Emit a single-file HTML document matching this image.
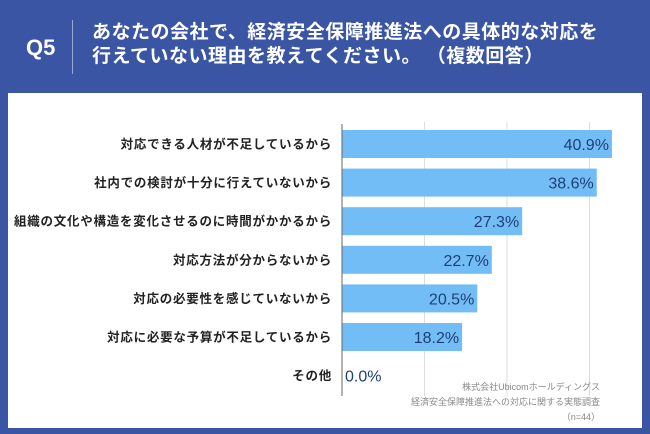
<!DOCTYPE html>
<html><head><meta charset="utf-8"><style>
body{margin:0;width:650px;height:434px;background:#3a55a3;font-family:"Liberation Sans","Noto Sans CJK JP",sans-serif;position:relative;overflow:hidden}
.hd{position:absolute;color:#fff;font-weight:bold}
</style></head><body>
<div class="hd" style="left:26px;top:35px;font-size:22px">Q5</div>
<div style="position:absolute;left:72px;top:20px;width:1px;height:54px;background:#9aa8d4"></div>
<div class="hd" style="left:92px;top:21px;font-size:19px;line-height:24px;letter-spacing:0.5px;white-space:nowrap">あなたの会社で、経済安全保障推進法への具体的な対応を<br>行えていない理由を教えてください。 （複数回答）</div>
<div style="position:absolute;left:8px;top:93px;width:634px;height:335px;background:#fff"></div>
<svg id="c" width="650" height="434" style="position:absolute;left:0;top:0"></svg>
<div style="position:absolute;right:50px;top:380px;font-size:9px;line-height:15px;color:#888;text-align:right;white-space:nowrap">株式会社Ubicomホールディングス<br>経済安全保障推進法への対応に関する実態調査<br>（n=44）</div>
<script>
const categories=["対応できる人材が不足しているから","社内での検討が十分に行えていないから","組織の文化や構造を変化させるのに時間がかかるから","対応方法が分からないから","対応の必要性を感じていないから","対応に必要な予算が不足しているから","その他"];
const values=[40.9,38.6,27.3,22.7,20.5,18.2,0.0];
const gridTicks=[12.5,25,37.5];
const svg=document.getElementById('c');const NS='http://www.w3.org/2000/svg';
const x0=342,pxPer=6.6,y0=144,step=38.6,bh=28;
const xs=v=>x0+v*pxPer, ys=i=>y0+i*step;
function mk(t,a){const e=document.createElementNS(NS,t);for(const k in a)e.setAttribute(k,a[k]);svg.appendChild(e);return e;}
gridTicks.forEach(t=>{const l=mk('line',{x1:xs(t),x2:xs(t),y1:122,y2:396,stroke:'#ddd','stroke-width':1});

});
categories.forEach((c,i)=>{
 const v=values[i],cy=ys(i);
 if(v>0){const r=mk('rect',{x:x0,y:cy-bh/2,width:xs(v)-x0,height:bh,fill:'#73bdf7'});
 
 }
 const lb=mk('text',{x:332,y:cy+4.5,'text-anchor':'end','font-size':12.5,'letter-spacing':0.75,'font-weight':'bold',fill:'#222'});lb.textContent=c;
 
 
 const vt=v>0?mk('text',{x:xs(v)-3,y:cy+6,'text-anchor':'end','font-size':16,fill:'#1f3f74'}):mk('text',{x:x0+3,y:cy+6,'font-size':16,fill:'#1f3f74'});
 vt.textContent=v.toFixed(1)+'%';
 
 
});
const ax=mk('line',{x1:x0,x2:x0,y1:124,y2:396,stroke:'#666','stroke-width':1});


</script>
</body></html>
